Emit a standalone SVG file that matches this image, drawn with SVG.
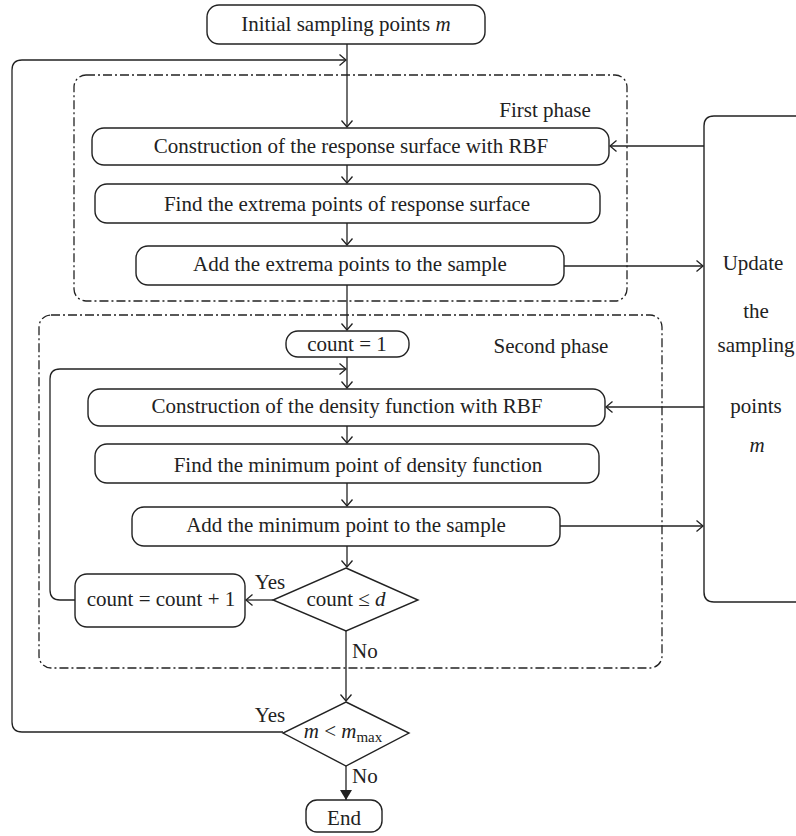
<svg xmlns="http://www.w3.org/2000/svg" width="796" height="836" viewBox="0 0 796 836">
<style>
.box{fill:#fff;stroke:#222;stroke-width:1.4}
.grp{fill:none;stroke:#222;stroke-width:1.3;stroke-dasharray:9 3 2 3}
.ln{fill:none;stroke:#222;stroke-width:1.3}
.t{font-family:"Liberation Serif","Times New Roman",serif;font-size:21px;fill:#222;text-anchor:middle}
.l{text-anchor:start}
.i{font-style:italic}
</style>
<defs>
<marker id="a" viewBox="0 0 8 12" refX="7" refY="6" markerWidth="8" markerHeight="12" markerUnits="userSpaceOnUse" orient="auto">
<path d="M0.5,0.5 L7,6 L0.5,11.5" fill="none" stroke="#222" stroke-width="1.3"/>
</marker>
<marker id="f" viewBox="0 0 10 12" refX="10" refY="6" markerWidth="10" markerHeight="12" markerUnits="userSpaceOnUse" orient="auto">
<path d="M0,0 L10,6 L0,12 Z" fill="#222"/>
</marker>
</defs>
<g id="groups">
<rect class="grp" x="74" y="75" width="553" height="226" rx="12"/>
<rect class="grp" x="39" y="315" width="623" height="353" rx="12"/>
<text class="t" x="545" y="117">First phase</text>
<text class="t" x="551" y="353">Second phase</text>
</g>
<g id="connectors">
<path class="ln" d="M347,44 V127" marker-end="url(#a)"/>
<path class="ln" d="M283,732 H22 Q12,732 12,722 V70 Q12,60 22,60 H346" marker-end="url(#a)"/>
<path class="ln" d="M347,165 V183" marker-end="url(#a)"/>
<path class="ln" d="M347,223 V245" marker-end="url(#a)"/>
<path class="ln" d="M347,285 V330" marker-end="url(#a)"/>
<path class="ln" d="M347,357 V388" marker-end="url(#a)"/>
<path class="ln" d="M75,600 H60 Q50,600 50,590 V379 Q50,369 60,369 H346" marker-end="url(#a)"/>
<path class="ln" d="M347,426 V443" marker-end="url(#a)"/>
<path class="ln" d="M347,483 V506" marker-end="url(#a)"/>
<path class="ln" d="M347,546 V567" marker-end="url(#a)"/>
<path class="ln" d="M273,600 H246" marker-end="url(#a)"/>
<path class="ln" d="M346,631 V701" marker-end="url(#a)"/>
<path class="ln" d="M346,766 V800" marker-end="url(#f)"/>
<path class="ln" d="M564,266 H703" marker-end="url(#a)"/>
<path class="ln" d="M560,526 H703" marker-end="url(#a)"/>
<path class="ln" d="M704,146 H610" marker-end="url(#a)"/>
<path class="ln" d="M704,407 H606" marker-end="url(#a)"/>
<text class="t" x="270" y="589">Yes</text>
<text class="t" x="270" y="722">Yes</text>
<text class="t l" x="352" y="658">No</text>
<text class="t l" x="352" y="783">No</text>
</g>
<g id="n-init">
<rect class="box" x="207" y="5" width="278" height="39" rx="12"/>
<text class="t" x="346" y="31">Initial sampling points <tspan class="i">m</tspan></text>
</g>
<g id="n-rs">
<rect class="box" x="92" y="128" width="517" height="37" rx="12"/>
<text class="t" x="351" y="153">Construction of the response surface with RBF</text>
</g>
<g id="n-ext">
<rect class="box" x="95" y="184" width="505" height="39" rx="12"/>
<text class="t" x="347" y="211">Find the extrema points of response surface</text>
</g>
<g id="n-addext">
<rect class="box" x="136" y="246" width="428" height="39" rx="12"/>
<text class="t" x="350" y="271">Add the extrema points to the sample</text>
</g>
<g id="n-count1">
<rect class="box" x="286" y="331" width="123" height="26" rx="12"/>
<text class="t" x="347" y="351">count = 1</text>
</g>
<g id="n-dens">
<rect class="box" x="88" y="389" width="517" height="37" rx="12"/>
<text class="t" x="347" y="413">Construction of the density function with RBF</text>
</g>
<g id="n-min">
<rect class="box" x="95" y="444" width="504" height="39" rx="12"/>
<text class="t" x="358" y="472">Find the minimum point of density function</text>
</g>
<g id="n-addmin">
<rect class="box" x="132" y="507" width="428" height="39" rx="12"/>
<text class="t" x="346" y="532">Add the minimum point to the sample</text>
</g>
<g id="n-cond1">
<polygon class="box" points="346,568 418,600 346,631 273,600"/>
<text class="t" x="346" y="606">count ≤ <tspan class="i">d</tspan></text>
</g>
<g id="n-inc">
<rect class="box" x="75" y="574" width="170" height="53" rx="12"/>
<text class="t" x="161" y="606">count = count + 1</text>
</g>
<g id="n-cond2">
<polygon class="box" points="346,702 409,733 346,766 283,733"/>
<text class="t" x="343" y="738"><tspan class="i">m</tspan> &lt; <tspan class="i">m</tspan><tspan font-size="15" dy="4">max</tspan></text>
</g>
<g id="n-end">
<rect class="box" x="306" y="800" width="76" height="32" rx="11"/>
<text class="t" x="344" y="825">End</text>
</g>
<g id="n-update">
<path class="box" d="M800,116 H714 Q704,116 704,126 V592 Q704,602 714,602 H800"/>
<text class="t" x="753" y="270">Update</text>
<text class="t" x="756" y="318">the</text>
<text class="t" x="756" y="352">sampling</text>
<text class="t" x="756" y="413">points</text>
<text class="t i" x="757" y="452">m</text>
</g>
</svg>
